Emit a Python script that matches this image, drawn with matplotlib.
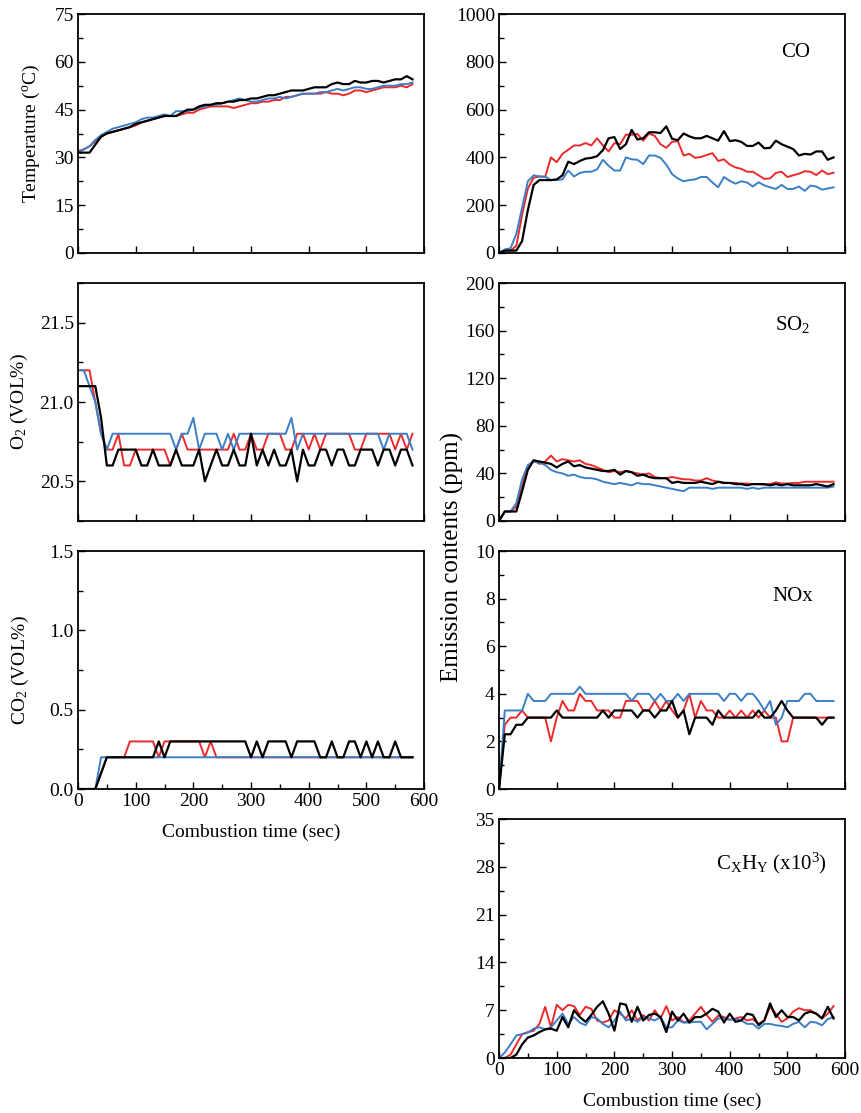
import numpy as np
import matplotlib
matplotlib.use('Agg')
import matplotlib.pyplot as plt
from matplotlib.ticker import MultipleLocator, FormatStrFormatter

# fonts
plt.rcParams['font.family'] = ['Liberation Serif', 'DejaVu Serif']
plt.rcParams['mathtext.default'] = 'regular'

# time axis (sec)
time = np.arange(0, 590, 10)

# colours of the three runs
c_red = '#ec2a2c'
c_blue = '#3b7fc6'
c_black = '#000000'

# temperature (C)
temp_black = [31.5, 31.5, 31.5, 34, 36.5, 37.5, 38, 38.5, 39, 39.5,
              40.5, 41, 41.5, 42, 42.5, 43, 43, 43, 44, 45,
              45, 46, 46.5, 46.5, 47, 47, 47.5, 47.5, 48, 48,
              48.5, 48.5, 49, 49.5, 49.5, 50, 50.5, 51, 51, 51,
              51.5, 52, 52, 52, 53, 53.5, 53, 53, 54, 53.5,
              53.5, 54, 54, 53.5, 54, 54.5, 54.5, 55.5, 54.5]
temp_red = [32, 32.5, 33.5, 35, 36.5, 37.5, 38, 38.5, 39, 39.5,
            40, 41, 41.5, 42, 42.5, 43, 43, 43, 43.5, 44,
            44, 45, 45.5, 46, 46, 46, 46, 45.5, 46, 46.5,
            47, 47, 47.5, 47.5, 48, 48, 49, 49, 49.5, 50,
            50, 50, 50, 50.5, 50, 50, 49.5, 50, 51, 51,
            50.5, 51, 51.5, 52, 52, 52, 52.5, 52, 53]
temp_blue = [31.5, 32.5, 33.5, 35.5, 37, 38, 39, 39.5, 40, 40.5,
             41, 42, 42.5, 42.5, 43, 43.5, 43, 44.5, 44.5, 44.5,
             45, 45.5, 46, 46.5, 46.5, 47, 47.5, 48, 48.5, 48,
             47.5, 47.5, 48, 48.5, 48.5, 49, 48.5, 49, 49.5, 50,
             50, 50, 50.5, 50.5, 51, 51.5, 51, 51.5, 52, 52,
             51.5, 51.5, 52, 52.5, 52.5, 52.5, 53, 53, 53.5]

# O2 (VOL%)
o2_black = [21.1, 21.1, 21.1, 21.1, 20.9, 20.6, 20.6, 20.7, 20.7, 20.7,
            20.7, 20.6, 20.6, 20.7, 20.6, 20.6, 20.6, 20.7, 20.6, 20.6,
            20.6, 20.7, 20.5, 20.6, 20.7, 20.6, 20.6, 20.7, 20.6, 20.6,
            20.8, 20.6, 20.7, 20.6, 20.7, 20.6, 20.6, 20.7, 20.5, 20.7,
            20.6, 20.6, 20.7, 20.7, 20.6, 20.7, 20.7, 20.6, 20.6, 20.7,
            20.7, 20.7, 20.6, 20.7, 20.7, 20.6, 20.7, 20.7, 20.6]
o2_red = [21.2, 21.2, 21.2, 21.0, 20.8, 20.7, 20.7, 20.8, 20.6, 20.6,
          20.7, 20.7, 20.7, 20.7, 20.7, 20.7, 20.6, 20.7, 20.8, 20.7,
          20.7, 20.7, 20.7, 20.7, 20.7, 20.7, 20.7, 20.8, 20.7, 20.7,
          20.8, 20.7, 20.7, 20.8, 20.8, 20.8, 20.7, 20.7, 20.8, 20.8,
          20.7, 20.8, 20.7, 20.8, 20.8, 20.8, 20.8, 20.8, 20.7, 20.7,
          20.8, 20.8, 20.8, 20.8, 20.8, 20.7, 20.8, 20.7, 20.8]
o2_blue = [21.2, 21.2, 21.1, 21.0, 20.8, 20.7, 20.8, 20.8, 20.8, 20.8,
           20.8, 20.8, 20.8, 20.8, 20.8, 20.8, 20.8, 20.7, 20.8, 20.8,
           20.9, 20.7, 20.8, 20.8, 20.8, 20.7, 20.8, 20.7, 20.8, 20.8,
           20.8, 20.8, 20.8, 20.8, 20.8, 20.8, 20.8, 20.9, 20.7, 20.8,
           20.8, 20.8, 20.8, 20.8, 20.8, 20.8, 20.8, 20.8, 20.8, 20.8,
           20.8, 20.8, 20.8, 20.7, 20.8, 20.8, 20.8, 20.8, 20.7]

# CO2 (VOL%)
co2_black = [0, 0, 0, 0, 0.1, 0.2, 0.2, 0.2, 0.2, 0.2,
             0.2, 0.2, 0.2, 0.2, 0.3, 0.2, 0.3, 0.3, 0.3, 0.3,
             0.3, 0.3, 0.3, 0.3, 0.3, 0.3, 0.3, 0.3, 0.3, 0.3,
             0.2, 0.3, 0.2, 0.3, 0.3, 0.3, 0.3, 0.2, 0.3, 0.3,
             0.3, 0.3, 0.2, 0.2, 0.3, 0.2, 0.2, 0.3, 0.3, 0.2,
             0.3, 0.2, 0.3, 0.2, 0.2, 0.3, 0.2, 0.2, 0.2]
co2_red = [0, 0, 0, 0, 0.1, 0.2, 0.2, 0.2, 0.2, 0.3,
           0.3, 0.3, 0.3, 0.3, 0.2, 0.3, 0.3, 0.3, 0.3, 0.3,
           0.3, 0.3, 0.2, 0.3, 0.2, 0.2, 0.2, 0.2, 0.2, 0.2,
           0.2, 0.2, 0.2, 0.2, 0.2, 0.2, 0.2, 0.2, 0.2, 0.2,
           0.2, 0.2, 0.2, 0.2, 0.2, 0.2, 0.2, 0.2, 0.2, 0.2,
           0.2, 0.2, 0.2, 0.2, 0.2, 0.2, 0.2, 0.2, 0.2]
co2_blue = [0, 0, 0, 0, 0.2, 0.2, 0.2, 0.2, 0.2, 0.2,
            0.2, 0.2, 0.2, 0.2, 0.2, 0.2, 0.2, 0.2, 0.2, 0.2,
            0.2, 0.2, 0.2, 0.2, 0.2, 0.2, 0.2, 0.2, 0.2, 0.2,
            0.2, 0.2, 0.2, 0.2, 0.2, 0.2, 0.2, 0.2, 0.2, 0.2,
            0.2, 0.2, 0.2, 0.2, 0.2, 0.2, 0.2, 0.2, 0.2, 0.2,
            0.2, 0.2, 0.2, 0.2, 0.2, 0.2, 0.2, 0.2, 0.2]

# CO (ppm)
co_black = [0, 10, 10, 10, 50, 180, 285, 305, 305, 305,
            308, 325, 382, 372, 385, 395, 398, 405, 430, 480,
            485, 435, 455, 515, 475, 480, 505, 505, 502, 530,
            478, 472, 500, 488, 480, 480, 490, 480, 470, 510,
            468, 472, 465, 448, 448, 462, 438, 440, 470, 455,
            445, 435, 408, 415, 412, 425, 425, 390, 400]
co_red = [0, 10, 10, 30, 160, 270, 315, 320, 318, 400,
          380, 415, 432, 450, 450, 460, 450, 480, 450, 425,
          460, 455, 495, 495, 498, 470, 500, 490, 455, 440,
          465, 468, 408, 415, 398, 402, 410, 418, 385, 392,
          370, 358, 352, 340, 340, 325, 310, 312, 335, 340,
          318, 325, 332, 342, 340, 326, 345, 330, 336]
co_blue = [0, 15, 20, 80, 190, 300, 325, 320, 320, 305,
           305, 308, 345, 320, 335, 340, 340, 350, 390, 365,
           345, 345, 400, 392, 390, 372, 408, 408, 398, 370,
           330, 312, 300, 305, 308, 318, 318, 295, 275, 318,
           302, 290, 300, 295, 278, 296, 283, 275, 268, 285,
           268, 268, 278, 260, 282, 278, 265, 270, 275]

# SO2 (ppm)
so2_black = [0, 8, 8, 8, 25, 43, 51, 50, 49, 48,
             45, 48, 50, 46, 47, 45, 44, 43, 42, 42,
             43, 39, 42, 41, 38, 39, 37, 36, 36, 36,
             32, 33, 32, 32, 32, 33, 32, 31, 33, 32,
             32, 31, 31, 30, 31, 31, 31, 30, 31, 30,
             31, 30, 30, 30, 30, 31, 30, 29, 31]
so2_red = [0, 8, 8, 12, 30, 45, 51, 48, 50, 55,
           50, 52, 51, 50, 51, 48, 47, 45, 43, 41,
           42, 41, 42, 41, 40, 39, 40, 37, 36, 36,
           37, 36, 35, 35, 34, 34, 36, 34, 33, 32,
           32, 32, 31.5, 31.5, 31, 31, 30.5, 31, 32.5, 31.5,
           31.5, 32, 32, 33, 33, 33, 33, 33, 33]
so2_blue = [0, 8, 8, 15, 35, 47, 50, 49, 47, 43,
            41, 40, 38, 39, 37, 36, 36, 35, 33, 32,
            31, 32, 31, 30, 32, 31, 31, 30, 29, 28,
            27, 26, 25, 28, 28, 28, 28, 27, 28, 28,
            28, 28, 28, 27, 28, 27, 28, 28, 28, 28,
            28, 28, 28, 28, 28, 28, 28, 28, 29]

# NOx (ppm)
nox_black = [0, 2.3, 2.3, 2.7, 2.7, 3.0, 3.0, 3.0, 3.0, 3.0,
             3.3, 3.0, 3.0, 3.0, 3.0, 3.0, 3.0, 3.0, 3.3, 3.0,
             3.3, 3.3, 3.3, 3.3, 3.0, 3.3, 3.3, 3.0, 3.3, 3.3,
             3.7, 3.0, 3.3, 2.3, 3.0, 3.0, 3.0, 2.7, 3.3, 3.0,
             3.0, 3.0, 3.0, 3.0, 3.0, 3.3, 3.0, 3.0, 3.3, 3.7,
             3.3, 3.0, 3.0, 3.0, 3.0, 3.0, 2.7, 3.0, 3.0]
nox_red = [0, 2.7, 3.0, 3.0, 3.3, 3.0, 3.0, 3.0, 3.0, 2.0,
           3.0, 3.7, 3.3, 3.3, 4.0, 3.7, 3.7, 3.3, 3.3, 3.3,
           3.0, 3.0, 3.7, 3.7, 3.7, 3.3, 3.3, 3.7, 3.3, 3.7,
           3.3, 3.0, 3.3, 4.0, 3.0, 3.7, 3.3, 3.3, 3.0, 3.0,
           3.3, 3.0, 3.3, 3.0, 3.3, 3.0, 3.3, 3.0, 3.0, 2.0,
           2.0, 3.0, 3.0, 3.0, 3.0, 3.0, 3.0, 3.0, 3.0]
nox_blue = [0, 3.3, 3.3, 3.3, 3.3, 4.0, 3.7, 3.7, 3.7, 4.0,
            4.0, 4.0, 4.0, 4.0, 4.3, 4.0, 4.0, 4.0, 4.0, 4.0,
            4.0, 4.0, 4.0, 3.7, 4.0, 4.0, 4.0, 3.7, 4.0, 3.7,
            3.7, 4.0, 3.7, 4.0, 4.0, 4.0, 4.0, 4.0, 4.0, 3.7,
            4.0, 4.0, 3.7, 4.0, 4.0, 3.7, 3.3, 3.7, 2.7, 3.0,
            3.7, 3.7, 3.7, 4.0, 4.0, 3.7, 3.7, 3.7, 3.7]

# CxHy (x10^3 ppm)
cxhy_black = [0, 0, 0, 0.5, 2, 3, 3.3, 3.8, 4.2, 4.3,
              4, 6, 4.5, 7.0, 6.0, 5.3, 6.3, 7.5, 8.3, 6.5,
              4.0, 8.0, 7.8, 5.3, 7.5, 5.5, 6.3, 6.5, 6.0, 3.8,
              6.8, 5.5, 6.5, 5.2, 6.0, 6.0, 6.5, 7.2, 6.8, 5.2,
              6.5, 5.3, 5.5, 6.5, 6.3, 4.8, 5.5, 8.0, 6.0, 7.0,
              6.0, 6.0, 5.5, 6.5, 6.8, 6.5, 5.8, 7.5, 5.8]
cxhy_red = [0, 0, 0.5, 2, 3.5, 3.8, 4, 5, 7.5, 4.5,
            7.8, 7, 7.8, 7.6, 6.3, 7.5, 7.2, 5.5, 5.2, 5.5,
            7, 6.5, 5.8, 7, 5.5, 6.3, 5.5, 7, 5.8, 7.6,
            5.5, 6.0, 5.2, 5.5, 6.5, 7.5, 6.3, 5.3, 6.2, 6.0,
            5.6, 5.8, 6.0, 5.5, 5.7, 5.0, 5.5, 7.5, 6.5, 5.3,
            5.8, 6.8, 7.3, 7.0, 7.0, 6.5, 5.8, 6.5, 7.6]
cxhy_blue = [0, 0.8, 2, 3.3, 3.5, 3.7, 4.3, 4.5, 4.2, 4.5,
             5.5, 6.5, 5, 6, 5.2, 4.8, 6, 5.8, 5, 4.5,
             5.5, 6.8, 5.5, 5.8, 5.3, 6.0, 5.8, 5.5, 6.0, 4.5,
             4.5, 5.5, 5.2, 5.2, 5.3, 5.3, 4.2, 5.0, 5.8, 5.8,
             5.6, 5.7, 5.5, 5.0, 5.0, 4.3, 5.0, 5.0, 4.8, 4.7,
             4.5, 5.0, 5.3, 4.5, 5.3, 5.2, 4.8, 5.7, 6.0]

# figure
fig = plt.figure(figsize=(8.61, 11.13), dpi=100)

# panel positions [left, bottom, width, height]
colx = [0.0906, 0.5796]
w = 0.4019
rows = [(0.7727, 0.2147), (0.5319, 0.2138), (0.2911, 0.2138), (0.0494, 0.2147)]

def make_panel(col, row, ylim, major, minor, bottom=False, fmt=None):
    ax = fig.add_axes([colx[col], rows[row][0], w, rows[row][1]])
    ax.set_xlim(0, 600)
    ax.set_ylim(*ylim)
    ax.xaxis.set_major_locator(MultipleLocator(100))
    ax.yaxis.set_major_locator(MultipleLocator(major))
    ax.yaxis.set_minor_locator(MultipleLocator(minor))
    if bottom:
        ax.xaxis.set_minor_locator(MultipleLocator(50))
        ax.set_xlabel('Combustion time (sec)', fontsize=14, labelpad=10)
    else:
        ax.tick_params(axis='x', labelbottom=False)
    if fmt:
        ax.yaxis.set_major_formatter(FormatStrFormatter(fmt))
    ax.tick_params(which='major', direction='in', length=5, width=1, labelsize=14,
                   top=False, right=False, pad=3)
    ax.tick_params(which='minor', direction='in', length=3.3, width=1,
                   top=False, right=False)
    for s in ax.spines.values():
        s.set_linewidth(1.3)
    return ax

def draw(ax, red, blue, black):
    ax.plot(time, red, color=c_red, lw=1.4)
    ax.plot(time, blue, color=c_blue, lw=1.4)
    ax.plot(time, black, color=c_black, lw=1.6)

# left column
ax = make_panel(0, 0, (0, 75), 15, 7.5)
draw(ax, temp_red, temp_blue, temp_black)
ax.set_ylabel('Temperature ($^o$C)', fontsize=14)
ax.yaxis.set_label_coords(-0.104, 0.5)

ax = make_panel(0, 1, (20.25, 21.75), 0.5, 0.25, fmt='%.1f')
draw(ax, o2_red, o2_blue, o2_black)
ax.set_ylabel('O$_2$ (VOL%)', fontsize=14)
ax.yaxis.set_label_coords(-0.139, 0.5)

ax = make_panel(0, 2, (0, 1.5), 0.5, 0.25, bottom=True, fmt='%.1f')
draw(ax, co2_red, co2_blue, co2_black)
ax.set_ylabel('CO$_2$ (VOL%)', fontsize=14)
ax.yaxis.set_label_coords(-0.135, 0.5)

# right column
ax = make_panel(1, 0, (0, 1000), 200, 100)
draw(ax, co_red, co_blue, co_black)
ax.text(0.858, 0.837, 'CO', transform=ax.transAxes, fontsize=15, ha='center', va='center')

ax = make_panel(1, 1, (0, 200), 40, 20)
draw(ax, so2_red, so2_blue, so2_black)
ax.text(0.85, 0.824, 'SO$_2$', transform=ax.transAxes, fontsize=15, ha='center', va='center')

ax = make_panel(1, 2, (0, 10), 2, 1)
draw(ax, nox_red, nox_blue, nox_black)
ax.text(0.85, 0.807, 'NOx', transform=ax.transAxes, fontsize=15, ha='center', va='center')

ax = make_panel(1, 3, (0, 35), 7, 3.5, bottom=True)
draw(ax, cxhy_red, cxhy_blue, cxhy_black)
ax.text(0.786, 0.816, 'C$_X$H$_Y$ (x10$^3$)', transform=ax.transAxes, fontsize=15,
        ha='center', va='center')

# shared y label of the emission panels
fig.text(452 / 861, 1 - 557 / 1113, 'Emission contents (ppm)', rotation=90,
         fontsize=18, ha='center', va='center')

plt.savefig('out.png', dpi=100)
